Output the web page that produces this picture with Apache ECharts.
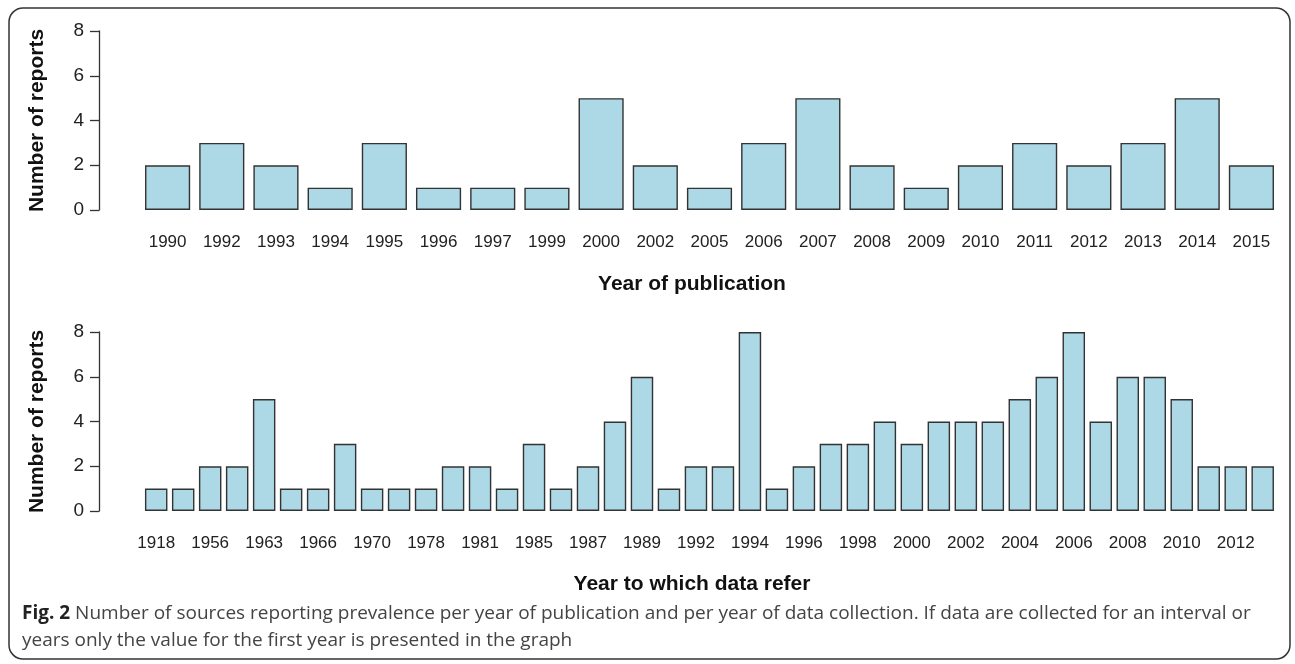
<!DOCTYPE html>
<html>
<head>
<meta charset="utf-8">
<script src="https://cdn.jsdelivr.net/npm/echarts@6/dist/echarts.min.js"></script>
<style>
  html, body { margin: 0; padding: 0; background: #fff; }
  #main { width: 1295px; height: 664px; }
</style>
</head>
<body>
<div id="main"></div>
<script>
// publication years and report counts (top panel)
var pubYears = ['1990','1992','1993','1994','1995','1996','1997','1999','2000','2002','2005',
  '2006','2007','2008','2009','2010','2011','2012','2013','2014','2015'];
var pubCounts = [2,3,2,1,3,1,1,1,5,2,1,3,5,2,1,2,3,2,3,5,2];

// years the data refer to (bottom panel); every other label is printed
var dataYears = ['1918','1950','1956','1960','1963','1964','1966','1968','1970','1975','1978',
  '1980','1981','1983','1985','1986','1987','1988','1989','1990','1992','1993','1994','1995',
  '1996','1997','1998','1999','2000','2001','2002','2003','2004','2005','2006','2007','2008',
  '2009','2010','2011','2012','2013'];
var dataCounts = [1,1,2,2,5,1,1,3,1,1,1,2,2,1,3,1,2,4,6,1,2,2,8,1,2,3,3,4,3,4,4,4,5,6,8,4,6,6,5,2,2,2];

var yTicks = [0, 8, 2]; // min, max, step

var chart = echarts.init(document.getElementById('main'));

var fontFam = '"Liberation Sans", Arial, sans-serif';

function yAxisOpt(gridIdx, off) {
  return {
    type: 'value', gridIndex: gridIdx,
    min: yTicks[0], max: yTicks[1], interval: yTicks[2],
    offset: off,
    name: 'Number of reports', nameLocation: 'middle', nameGap: 51,
    nameTextStyle: { fontFamily: fontFam, fontWeight: 'bold', fontSize: 21, color: '#111' },
    axisLine: { show: true, lineStyle: { color: '#333', width: 1.3 } },
    axisTick: { show: true, length: 9, lineStyle: { color: '#333', width: 1.3 } },
    axisLabel: { fontFamily: fontFam, fontSize: 19, color: '#222', margin: 15 },
    splitLine: { show: false }
  };
}

function xAxisOpt(gridIdx, cats, every) {
  return {
    type: 'category', gridIndex: gridIdx, data: cats,
    axisLine: { show: false }, axisTick: { show: false },
    axisLabel: { interval: every, fontFamily: fontFam, fontSize: 17, color: '#222', margin: 24 }
  };
}

function barSeries(idx, vals) {
  return {
    type: 'bar', xAxisIndex: idx, yAxisIndex: idx, data: vals,
    barCategoryGap: '16.7%',
    itemStyle: { color: '#ADD8E6', borderColor: '#333', borderWidth: 1.4 },
    silent: true
  };
}

var option = {
  backgroundColor: '#fff',
  animation: false,
  grid: [
    { left: 140.5, width: 1138, top: 31, height: 179 },
    { left: 142.7, width: 1133.5, top: 332, height: 179 }
  ],
  xAxis: [xAxisOpt(0, pubYears, 0), xAxisOpt(1, dataYears, 1)],
  yAxis: [yAxisOpt(0, 41.5), yAxisOpt(1, 43.7)],
  series: [barSeries(0, pubCounts), barSeries(1, dataCounts)],
  graphic: [
    {
      type: 'rect', shape: { x: 9, y: 8, width: 1281, height: 651, r: 14 },
      style: { fill: 'none', stroke: '#333', lineWidth: 1.5 }, silent: true
    },
    {
      type: 'text', x: 692, y: 284,
      style: { text: 'Year of publication', font: 'bold 21px ' + fontFam, fill: '#111',
        textAlign: 'center', textVerticalAlign: 'middle' }
    },
    {
      type: 'text', x: 692, y: 584,
      style: { text: 'Year to which data refer', font: 'bold 21px ' + fontFam, fill: '#111',
        textAlign: 'center', textVerticalAlign: 'middle' }
    },
    {
      type: 'text', x: 22, y: 614,
      style: {
        text: '{b|Fig. 2} Number of sources reporting prevalence per year of publication and per year of data collection. If data are collected for an interval or',
        textVerticalAlign: 'middle',
        rich: {
          b: { fontFamily: '"Open Sans", sans-serif', fontWeight: 'bold', fontSize: 19, fill: '#222' }
        },
        font: '19px "Open Sans", sans-serif', fill: '#444'
      }
    },
    {
      type: 'text', x: 22, y: 641,
      style: { text: 'years only the value for the first year is presented in the graph',
        font: '19px "Open Sans", sans-serif', fill: '#444', textVerticalAlign: 'middle' }
    }
  ]
};

chart.setOption(option);
</script>
</body>
</html>
